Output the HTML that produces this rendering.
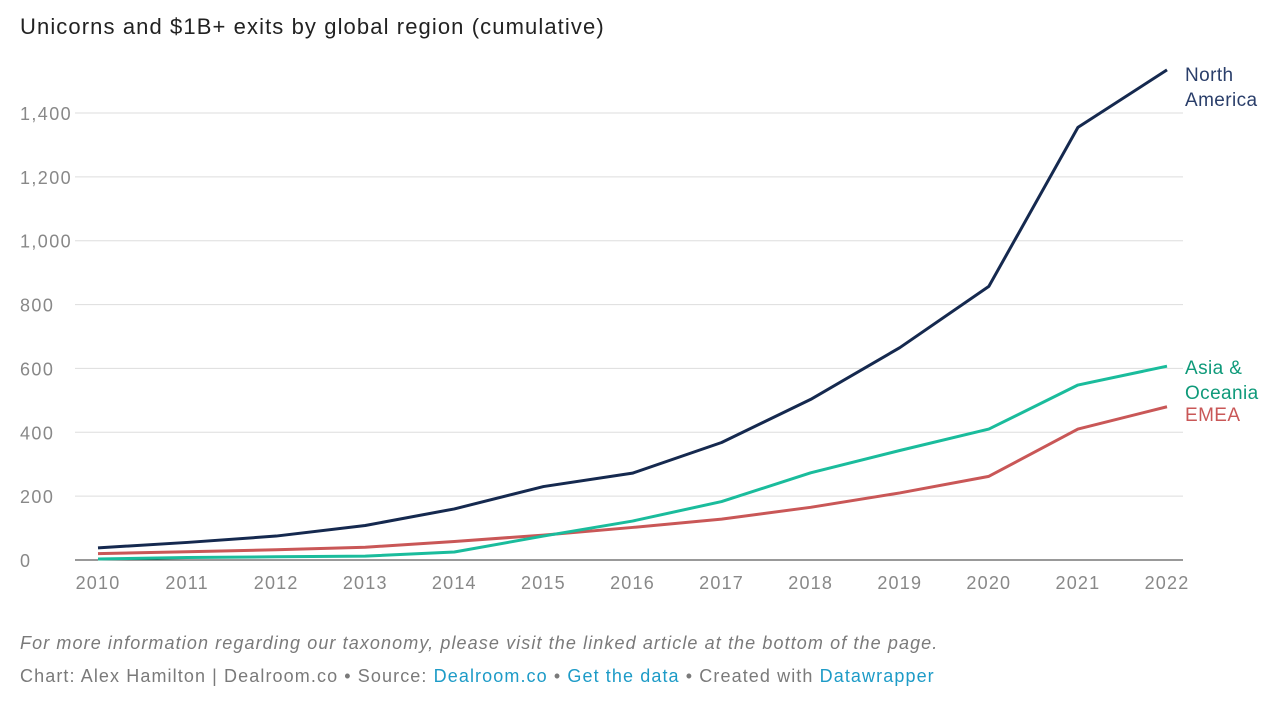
<!DOCTYPE html>
<html><head><meta charset="utf-8"><style>
body{margin:0;background:#fff;font-family:"Liberation Sans",sans-serif;width:1272px;height:705px;overflow:hidden}
#title{position:absolute;left:20px;top:14px;font-size:22px;color:#222;letter-spacing:1.1px}
.note{position:absolute;left:20px;font-size:18px;color:#7a7a7a;letter-spacing:1.1px}
a{color:#1d9bc7;text-decoration:none}
</style></head><body>
<div id="title">Unicorns and $1B+ exits by global region (cumulative)</div>
<svg id="chart" width="1272" height="705" style="position:absolute;left:0;top:0"></svg>
<div class="note" style="top:633px;font-style:italic">For more information regarding our taxonomy, please visit the linked article at the bottom of the page.</div>
<div class="note" style="top:666px">Chart: Alex Hamilton | Dealroom.co • Source: <a>Dealroom.co</a> • <a>Get the data</a> • Created with <a>Datawrapper</a></div>
<script>
const years=[2010,2011,2012,2013,2014,2015,2016,2017,2018,2019,2020,2021,2022];
const northAmerica=[38,55,75,108,160,230,272,368,503,665,857,1355,1535];
const asiaOceania=[3,8,10,12,25,75,122,183,273,343,410,548,607];
const emea=[20,26,32,40,58,78,102,128,165,210,262,410,480];
const yTicks=[0,200,400,600,800,1000,1200,1400];
const yTickLabels=["0","200","400","600","800","1,000","1,200","1,400"];
const svg=document.getElementById('chart');
const NS='http://www.w3.org/2000/svg';
const x=y=>98+(y-2010)*(1167-98)/12;
const yS=v=>560-v*(560-113)/1400;
function mk(t,a){const e=document.createElementNS(NS,t);for(const k in a)e.setAttribute(k,a[k]);svg.appendChild(e);return e;}
yTicks.forEach((v,i)=>{
 const l=mk('line',{x1:75,x2:1183,y1:yS(v),y2:yS(v),stroke:v===0?'#333':'#ddd','stroke-width':1});
 
 
 const t=mk('text',{x:20,y:yS(v)+7,'font-size':18,fill:'#888','font-family':'Liberation Sans','letter-spacing':1.4});
 t.textContent=yTickLabels[i];
 
 
});
years.forEach(yr=>{
 const t=mk('text',{x:x(yr),y:589,'font-size':18,fill:'#888','text-anchor':'middle','font-family':'Liberation Sans','letter-spacing':1.2});
 t.textContent=yr;
 
 
});
function series(vals,color,tcolor,name,labels,ly){
 const p=mk('polyline',{points:vals.map((v,i)=>x(years[i])+','+yS(v)).join(' '),fill:'none',stroke:color,'stroke-width':3,'stroke-linejoin':'round'});
 
 
 labels.forEach((s,i)=>{
  const t=mk('text',{x:1185,y:ly+i*25,'font-size':19,fill:tcolor,'font-family':'Liberation Sans','letter-spacing':0.4});
  t.textContent=s;
  
  
 });
}
series(emea,'#c95757','#c95757','emea',['EMEA'],421);
series(asiaOceania,'#1abc9c','#0f9a7a','asia-oceania',['Asia &','Oceania'],374);
series(northAmerica,'#15294f','#2a3e6a','north-america',['North','America'],81);
</script>
</body></html>
